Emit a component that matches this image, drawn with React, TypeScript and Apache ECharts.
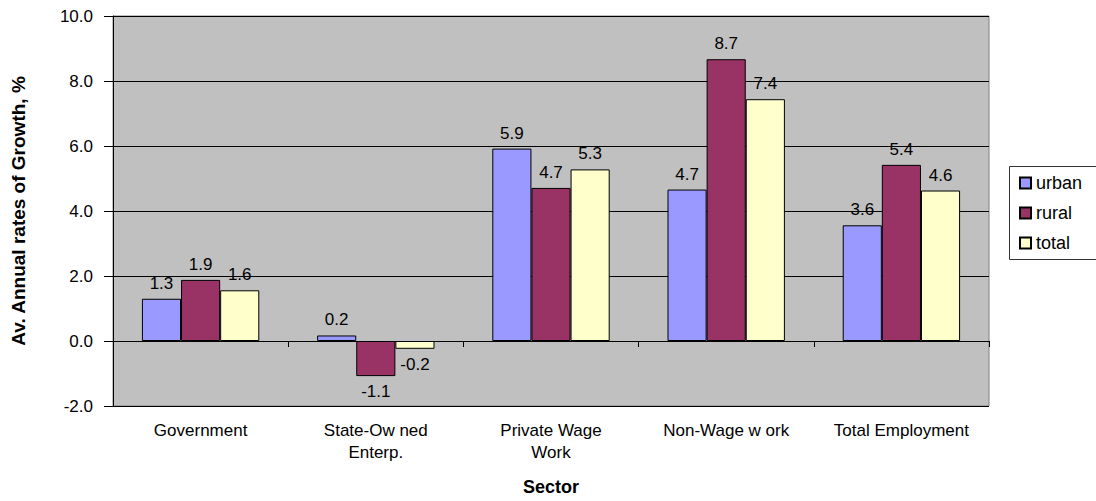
import React, { useEffect, useRef } from "react";
import * as echarts from "echarts";

const categories = [
  "Government",
  "State-Ow ned\nEnterp.",
  "Private Wage\nWork",
  "Non-Wage w ork",
  "Total Employment",
];
const urban = [1.3, 0.17, 5.92, 4.66, 3.56];
const rural = [1.88, -1.08, 4.71, 8.67, 5.42];
const total = [1.56, -0.24, 5.28, 7.44, 4.63];
const yTicks = { min: -2, max: 10, interval: 2 };

const FONT = 'Arial, "Liberation Sans", sans-serif';

function toData(arr: number[]) {
  return arr.map((v) =>
    v < 0 ? { value: v, label: { position: "bottom" } } : v
  );
}

export default function App() {
  const ref = useRef<HTMLDivElement>(null);
  useEffect(() => {
    if (!ref.current) return;
    const chart = echarts.init(ref.current, undefined, { renderer: "svg" });
    const labelCfg = {
      show: true,
      position: "top",
      distance: 7,
      fontFamily: FONT,
      fontSize: 17,
      color: "#000",
      formatter: (p: any) => Number(p.value).toFixed(1),
    };
    const mk = (name: string, arr: number[], color: string) => ({
      name,
      type: "bar",
      xAxisIndex: 0,
      data: toData(arr),
      barGap: "0%",
      barCategoryGap: "33%",
      itemStyle: { color, borderColor: "#000", borderWidth: 1 },
      label: labelCfg,
    });
    chart.setOption({
      animation: false,
      backgroundColor: "#fff",
      textStyle: { fontFamily: FONT },
      grid: {
        left: 113,
        top: 16,
        right: 107,
        bottom: 86,
        show: true,
        backgroundColor: "#C0C0C0",
        borderColor: "#808080",
        borderWidth: 1,
      },
      legend: {
        orient: "vertical",
        left: 1019,
        top: 174,
        padding: 0,
        itemWidth: 11,
        itemHeight: 11,
        itemGap: 12,
        icon: "rect",
        textStyle: { fontFamily: FONT, fontSize: 18, color: "#000", lineHeight: 18 },
        data: ["urban", "rural", "total"],
      },
      graphic: [
        {
          type: "rect",
          left: 1009,
          top: 166,
          shape: { width: 100, height: 93 },
          style: { fill: "#fff", stroke: "#333", lineWidth: 1 },
          z: -1,
        },
      ],
      xAxis: [
        {
          type: "category",
          data: categories,
          position: "bottom",
          name: "Sector",
          nameLocation: "middle",
          nameGap: 72,
          nameTextStyle: { fontFamily: FONT, fontSize: 18, fontWeight: "bold", color: "#000" },
          axisLine: { show: false, onZero: false },
          axisTick: { show: false },
          axisLabel: {
            interval: 0,
            margin: 13,
            fontFamily: FONT,
            fontSize: 17,
            lineHeight: 22,
            color: "#000",
          },
        },
        {
          type: "category",
          data: categories,
          position: "bottom",
          axisLine: { show: true, onZero: true, lineStyle: { color: "#000", width: 1 } },
          axisTick: { show: true, length: 6, lineStyle: { color: "#000" } },
          axisLabel: { show: false },
        },
      ],
      yAxis: {
        type: "value",
        min: yTicks.min,
        max: yTicks.max,
        interval: yTicks.interval,
        name: "Av. Annual rates of Growth, %",
        nameLocation: "middle",
        nameGap: 85,
        nameTextStyle: { fontFamily: FONT, fontSize: 19, fontWeight: "bold", color: "#000" },
        axisLine: { show: true, lineStyle: { color: "#000", width: 1 } },
        axisTick: { show: true, length: 9, lineStyle: { color: "#000" } },
        splitLine: { show: true, lineStyle: { color: "#000", width: 1 } },
        axisLabel: {
          margin: 20,
          fontFamily: FONT,
          fontSize: 17,
          color: "#000",
          formatter: (v: number) => v.toFixed(1),
        },
      },
      series: [
        mk("urban", urban, "#9999FF"),
        mk("rural", rural, "#993366"),
        mk("total", total, "#FFFFCC"),
      ],
    });
    return () => chart.dispose();
  }, []);
  return (
    <div
      ref={ref}
      style={{ position: "fixed", left: 0, top: 0, width: 1096, height: 501 }}
    />
  );
}
